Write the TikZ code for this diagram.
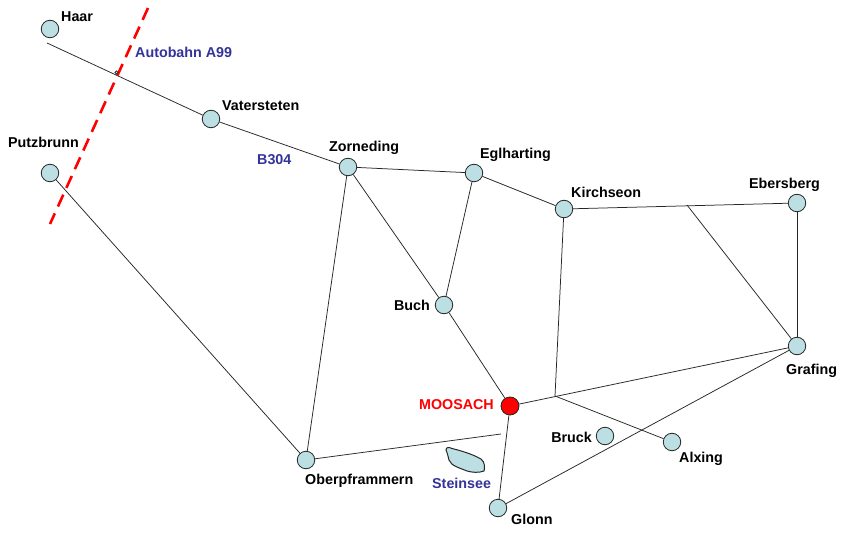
\documentclass[tikz,border=0pt]{standalone}
\usepackage{fontspec}
\setmainfont{Liberation Sans}
\usetikzlibrary{backgrounds}
\definecolor{stop}{HTML}{BBDFE2}
\definecolor{lbl}{HTML}{333399}
\tikzset{
  stopnode/.style={circle,draw=black!85,fill=stop,line width=0.8pt,minimum size=17.5pt,inner sep=0pt},
  townmain/.style={circle,draw=black!85,fill=red,line width=0.8pt,minimum size=18pt,inner sep=0pt},
  place/.style={font=\fontsize{14.3}{15}\selectfont\bfseries,text=black,inner sep=0pt},
  placeblue/.style={place,text=lbl},
  placered/.style={place,text=red},
  road/.style={draw=black!85,line width=0.75pt},
  autobahn/.style={draw=red,line width=2.6pt,dash pattern=on 13pt off 7.5pt}
}
\begin{document}
\begin{tikzpicture}[x=1pt,y=-1pt]
\useasboundingbox (0,0) rectangle (844,535);
% stops
\node[stopnode] (haar) at (50,29) {};
\node[stopnode] (vater) at (211,119) {};
\node[stopnode] (putz) at (50,173) {};
\node[stopnode] (zorn) at (348,167) {};
\node[stopnode] (egl) at (474,173) {};
\node[stopnode] (kirch) at (564,209) {};
\node[stopnode] (ebers) at (797,203) {};
\node[stopnode] (buch) at (444,305) {};
\node[stopnode] (graf) at (797,346) {};
\node[townmain] (moos) at (510,406) {};
\node[stopnode] (bruck) at (605,436) {};
\node[stopnode] (alx) at (672,442) {};
\node[stopnode] (ober) at (306,460) {};
\node[stopnode] (glonn) at (498,508) {};
% free ends and junctions
\coordinate (haarend) at (47,43);
\coordinate (jnorth) at (687,205);
\coordinate (jsouth) at (555,396);
\coordinate (oberend) at (501,434);
\coordinate (aTop) at (148,8);
\coordinate (aBot) at (50,224);
% labels
\node[place,anchor=west] (lhaar) at (61,17) {Haar};
\node[place,anchor=west] (lvater) at (222,106) {Vatersteten};
\node[place,anchor=east] (lputz) at (79,142) {Putzbrunn};
\node[place,anchor=west] (lzorn) at (329,147.5) {Zorneding};
\node[place,anchor=west] (legl) at (480,154.5) {Eglharting};
\node[place,anchor=west] (lkirch) at (571,192) {Kirchseon};
\node[place,anchor=west] (lebers) at (749,184.5) {Ebersberg};
\node[place,anchor=east] (lbuch) at (430,305) {Buch};
\node[place,anchor=west] (lgraf) at (786,370.5) {Grafing};
\node[placered,anchor=east] (lmoos) at (494,405) {MOOSACH};
\node[place,anchor=east] (lbruck) at (592,437) {Bruck};
\node[place,anchor=west] (lalx) at (679,458.5) {Alxing};
\node[place,anchor=west] (lober) at (305,480.5) {Oberpframmern};
\node[place,anchor=west] (lglonn) at (511,519) {Glonn};
\node[placeblue,anchor=west] (lauto) at (135,52) {Autobahn A99};
\node[placeblue,anchor=west] (lb) at (257,160) {B304};
\node[placeblue,anchor=west] (lstein) at (432,483) {Steinsee};
\begin{scope}[on background layer]
  \fill[white] (0,0) rectangle (844,535);
  \draw[road] (haarend) -- (vater);
  \draw[road] (vater) -- (zorn);
  \draw[road] (zorn) -- (egl);
  \draw[road] (egl) -- (kirch);
  \draw[road] (kirch) -- (ebers);
  \draw[road] (jnorth) -- (graf);
  \draw[road] (ebers) -- (graf);
  \draw[road] (zorn) -- (buch);
  \draw[road] (egl) -- (buch);
  \draw[road] (buch) -- (moos);
  \draw[road] (zorn) -- (ober);
  \draw[road] (ober) -- (oberend);
  \draw[road] (moos) -- (glonn);
  \draw[road] (moos) -- (graf);
  \draw[road] (jsouth) -- (kirch);
  \draw[road] (jsouth) -- (alx);
  \draw[road] (glonn) -- (graf);
  \draw[road] (putz) -- (ober);
  \draw[autobahn] (aTop) -- (aBot);
\end{scope}
% small marker on the road
\filldraw[fill=stop,draw=black!85,line width=0.6pt] (116.5,72.5) circle (1.6pt);
% Steinsee
\draw[fill=stop,draw=black!85,line width=1pt]
  (446,450) .. controls (446,447) and (449,447) .. (452,448.5)
  .. controls (462,451) and (472,454) .. (481,459)
  .. controls (485,462) and (485,468) .. (484,471)
  .. controls (479,473) and (472,472.5) .. (467,471)
  .. controls (460,468) and (451,466) .. (449,460)
  .. controls (448,456) and (447,452) .. (446,450) -- cycle;
\end{tikzpicture}
\end{document}
